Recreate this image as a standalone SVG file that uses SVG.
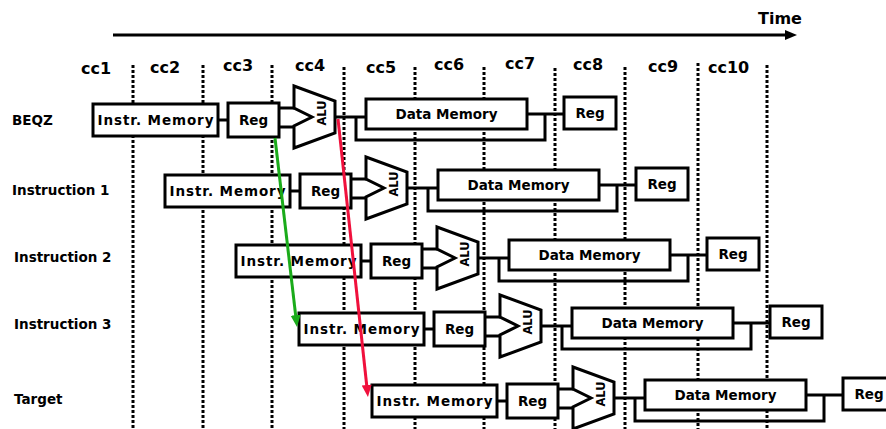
<svg xmlns="http://www.w3.org/2000/svg" width="886" height="429" viewBox="0 0 886 429">
<style>
.t{font-family:"DejaVu Sans","Liberation Sans",sans-serif;font-weight:bold;fill:#000}
.bx{font-size:13.5px;text-anchor:middle}
.lb{font-size:13.5px}
.cc{font-size:16px}
.alu{font-size:11.5px;text-anchor:middle;dominant-baseline:central}
.box{fill:#fff;stroke:#000;stroke-width:3}
.ln{fill:none;stroke:#000;stroke-width:3}
.dot{stroke:#000;stroke-width:3;stroke-dasharray:3 2}
</style>
<defs>
<marker id="ah" markerUnits="userSpaceOnUse" markerWidth="14" markerHeight="12" refX="2" refY="5" orient="auto">
<path d="M0,0 L12,5 L0,10 z" fill="#000"/>
</marker>
<marker id="ahg" markerUnits="userSpaceOnUse" markerWidth="14" markerHeight="12" refX="4" refY="5" orient="auto">
<path d="M0,0 L12,5 L0,10 z" fill="#1aab1a"/>
</marker>
<marker id="ahr" markerUnits="userSpaceOnUse" markerWidth="14" markerHeight="12" refX="4" refY="5" orient="auto">
<path d="M0,0 L12,5 L0,10 z" fill="#f0103c"/>
</marker>
</defs>
<rect width="886" height="429" fill="#fff"/>

<g id="timeaxis">
<line x1="113" y1="35" x2="787" y2="35" class="ln" marker-end="url(#ah)"/>
<text class="t cc" x="758" y="24" font-size="15.5">Time</text>
</g>

<g id="cycles">
<line class="dot" x1="133" y1="65" x2="133" y2="429"/>
<line class="dot" x1="203" y1="65" x2="203" y2="429"/>
<line class="dot" x1="272" y1="65" x2="272" y2="429"/>
<line class="dot" x1="344" y1="67" x2="344" y2="429"/>
<line class="dot" x1="415" y1="67" x2="415" y2="429"/>
<line class="dot" x1="484" y1="67" x2="484" y2="429"/>
<line class="dot" x1="555" y1="68" x2="555" y2="429"/>
<line class="dot" x1="625" y1="67" x2="625" y2="429"/>
<line class="dot" x1="698" y1="63" x2="698" y2="429"/>
<line class="dot" x1="767" y1="65" x2="767" y2="429"/>
<text class="t cc" x="81" y="74">cc1</text>
<text class="t cc" x="150" y="73">cc2</text>
<text class="t cc" x="223" y="71">cc3</text>
<text class="t cc" x="295" y="71">cc4</text>
<text class="t cc" x="366" y="73">cc5</text>
<text class="t cc" x="434" y="70">cc6</text>
<text class="t cc" x="505" y="69">cc7</text>
<text class="t cc" x="573" y="70">cc8</text>
<text class="t cc" x="648" y="72">cc9</text>
<text class="t cc" x="708" y="73">cc10</text>
</g>

<g id="labels">
<text class="t lb" x="12" y="125" font-size="15">BEQZ</text>
<text class="t lb" x="12" y="195">Instruction 1</text>
<text class="t lb" x="14" y="262">Instruction 2</text>
<text class="t lb" x="14" y="329">Instruction 3</text>
<text class="t lb" x="14" y="404">Target</text>
</g>

<g id="connectors">
<g transform="translate(93,120)">
<line class="ln" x1="125" y1="0" x2="135" y2="0"/><line class="ln" x1="186" y1="-12" x2="201" y2="-12"/><line class="ln" x1="186" y1="7" x2="201" y2="7"/><line class="ln" x1="242" y1="-3" x2="273" y2="-3"/><line class="ln" x1="434" y1="-6" x2="471" y2="-6"/><polyline class="ln" points="263,-3 263,20 452,20 452,-6"/>
</g>
<g transform="translate(165,191)">
<line class="ln" x1="125" y1="0" x2="135" y2="0"/><line class="ln" x1="186" y1="-12" x2="201" y2="-12"/><line class="ln" x1="186" y1="7" x2="201" y2="7"/><line class="ln" x1="242" y1="-3" x2="273" y2="-3"/><line class="ln" x1="434" y1="-6" x2="471" y2="-6"/><polyline class="ln" points="263,-3 263,20 452,20 452,-6"/>
</g>
<g transform="translate(236,261)">
<line class="ln" x1="125" y1="0" x2="135" y2="0"/><line class="ln" x1="186" y1="-12" x2="201" y2="-12"/><line class="ln" x1="186" y1="7" x2="201" y2="7"/><line class="ln" x1="242" y1="-3" x2="273" y2="-3"/><line class="ln" x1="434" y1="-6" x2="471" y2="-6"/><polyline class="ln" points="263,-3 263,20 452,20 452,-6"/>
</g>
<g transform="translate(299,329)">
<line class="ln" x1="125" y1="0" x2="135" y2="0"/><line class="ln" x1="186" y1="-12" x2="201" y2="-12"/><line class="ln" x1="186" y1="7" x2="201" y2="7"/><line class="ln" x1="242" y1="-3" x2="273" y2="-3"/><line class="ln" x1="434" y1="-6" x2="471" y2="-6"/><polyline class="ln" points="263,-3 263,20 452,20 452,-6"/>
</g>
<g transform="translate(372,401)">
<line class="ln" x1="125" y1="0" x2="135" y2="0"/><line class="ln" x1="186" y1="-12" x2="201" y2="-12"/><line class="ln" x1="186" y1="7" x2="201" y2="7"/><line class="ln" x1="242" y1="-3" x2="273" y2="-3"/><line class="ln" x1="434" y1="-6" x2="471" y2="-6"/><polyline class="ln" points="263,-3 263,20 452,20 452,-6"/>
</g>
</g>

<g id="row0" transform="translate(93,120)">
<g id="r0-im"><rect class="box" x="0" y="-16" width="125" height="32"/><text class="t bx" x="62.5" y="4.5" textLength="116" lengthAdjust="spacing">Instr. Memory</text></g>
<g id="r0-reg"><rect class="box" x="135" y="-17" width="51" height="34"/><text class="t bx" x="160.5" y="4.5">Reg</text></g>
<g id="r0-alu"><polygon class="box" points="201,-34 242,-19 242,13 201,28 201,6 219,-3 201,-12"/><text class="t alu" transform="translate(229,-7) rotate(-90)">ALU</text></g>
<g id="r0-dm"><rect class="box" x="273" y="-21" width="161" height="30"/><text class="t bx" x="353.5" y="-1">Data Memory</text></g>
<g id="r0-reg2"><rect class="box" x="471" y="-23" width="52" height="32"/><text class="t bx" x="497" y="-2.5">Reg</text></g>
</g>
<g id="row1" transform="translate(165,191)">
<g id="r1-im"><rect class="box" x="0" y="-16" width="125" height="32"/><text class="t bx" x="62.5" y="4.5" textLength="116" lengthAdjust="spacing">Instr. Memory</text></g>
<g id="r1-reg"><rect class="box" x="135" y="-17" width="51" height="34"/><text class="t bx" x="160.5" y="4.5">Reg</text></g>
<g id="r1-alu"><polygon class="box" points="201,-34 242,-19 242,13 201,28 201,6 219,-3 201,-12"/><text class="t alu" transform="translate(229,-7) rotate(-90)">ALU</text></g>
<g id="r1-dm"><rect class="box" x="273" y="-21" width="161" height="30"/><text class="t bx" x="353.5" y="-1">Data Memory</text></g>
<g id="r1-reg2"><rect class="box" x="471" y="-23" width="52" height="32"/><text class="t bx" x="497" y="-2.5">Reg</text></g>
</g>
<g id="row2" transform="translate(236,261)">
<g id="r2-im"><rect class="box" x="0" y="-16" width="125" height="32"/><text class="t bx" x="62.5" y="4.5" textLength="116" lengthAdjust="spacing">Instr. Memory</text></g>
<g id="r2-reg"><rect class="box" x="135" y="-17" width="51" height="34"/><text class="t bx" x="160.5" y="4.5">Reg</text></g>
<g id="r2-alu"><polygon class="box" points="201,-34 242,-19 242,13 201,28 201,6 219,-3 201,-12"/><text class="t alu" transform="translate(229,-7) rotate(-90)">ALU</text></g>
<g id="r2-dm"><rect class="box" x="273" y="-21" width="161" height="30"/><text class="t bx" x="353.5" y="-1">Data Memory</text></g>
<g id="r2-reg2"><rect class="box" x="471" y="-23" width="52" height="32"/><text class="t bx" x="497" y="-2.5">Reg</text></g>
</g>
<g id="row3" transform="translate(299,329)">
<g id="r3-im"><rect class="box" x="0" y="-16" width="125" height="32"/><text class="t bx" x="62.5" y="4.5" textLength="116" lengthAdjust="spacing">Instr. Memory</text></g>
<g id="r3-reg"><rect class="box" x="135" y="-17" width="51" height="34"/><text class="t bx" x="160.5" y="4.5">Reg</text></g>
<g id="r3-alu"><polygon class="box" points="201,-34 242,-19 242,13 201,28 201,6 219,-3 201,-12"/><text class="t alu" transform="translate(229,-7) rotate(-90)">ALU</text></g>
<g id="r3-dm"><rect class="box" x="273" y="-21" width="161" height="30"/><text class="t bx" x="353.5" y="-1">Data Memory</text></g>
<g id="r3-reg2"><rect class="box" x="471" y="-23" width="52" height="32"/><text class="t bx" x="497" y="-2.5">Reg</text></g>
</g>
<g id="row4" transform="translate(372,401)">
<g id="r4-im"><rect class="box" x="0" y="-16" width="125" height="32"/><text class="t bx" x="62.5" y="4.5" textLength="116" lengthAdjust="spacing">Instr. Memory</text></g>
<g id="r4-reg"><rect class="box" x="135" y="-17" width="51" height="34"/><text class="t bx" x="160.5" y="4.5">Reg</text></g>
<g id="r4-alu"><polygon class="box" points="201,-34 242,-19 242,13 201,28 201,6 219,-3 201,-12"/><text class="t alu" transform="translate(229,-7) rotate(-90)">ALU</text></g>
<g id="r4-dm"><rect class="box" x="273" y="-21" width="161" height="30"/><text class="t bx" x="353.5" y="-1">Data Memory</text></g>
<g id="r4-reg2"><rect class="box" x="471" y="-23" width="52" height="32"/><text class="t bx" x="497" y="-2.5">Reg</text></g>
</g>

<g id="branch-arrows">
<line x1="275" y1="138" x2="296.1" y2="319.1" stroke="#1aab1a" stroke-width="3" marker-end="url(#ahg)"/>
<line x1="338" y1="119" x2="367.1" y2="389" stroke="#f0103c" stroke-width="3" marker-end="url(#ahr)"/>
</g>
</svg>
